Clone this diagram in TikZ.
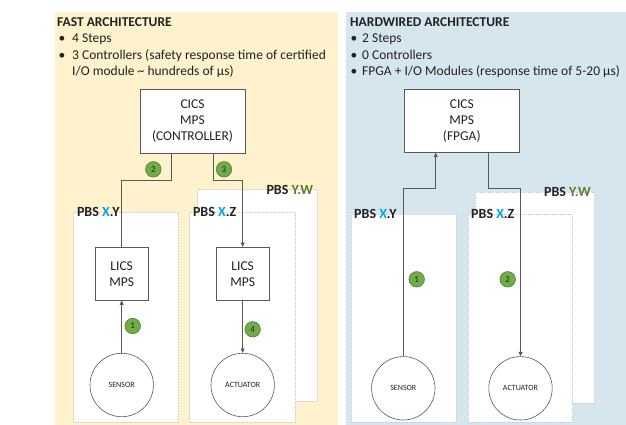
\documentclass[tikz,border=0pt]{standalone}
\usepackage{fontspec}
\setmainfont{Carlito}
\usetikzlibrary{arrows.meta,calc}

\definecolor{fastbg}{HTML}{FFF2CC}
\definecolor{hardbg}{HTML}{D6E6EF}
\definecolor{edge}{HTML}{595959}
\definecolor{pbsedge}{HTML}{CFCFCF}
\definecolor{badgefill}{HTML}{70AD47}
\definecolor{badgeedge}{HTML}{507E32}
\definecolor{xblue}{HTML}{00A6E6}
\definecolor{ygreen}{HTML}{5A7F2A}
\definecolor{ink}{HTML}{222222}

\tikzset{
  hdr/.style={anchor=base west, inner sep=0pt, font=\fontsize{13.5}{16}\selectfont, text=ink},
  blt/.style={anchor=base west, inner sep=0pt, font=\fontsize{13.5}{16}\selectfont, text=ink},
  pbsbox/.style={draw=pbsedge, densely dotted, line width=0.6pt, fill=white, anchor=north west, inner sep=0pt},
  pbslabel/.style={inner sep=0pt, font=\bfseries\fontsize{14}{16}\selectfont, text=ink},
  ctrl/.style={draw=edge, line width=0.7pt, fill=white, align=center, inner sep=0pt,
    font=\fontsize{13.5}{16}\selectfont, text=ink},
  dev/.style={circle, draw=edge, line width=0.6pt, fill=white, inner sep=0pt,
    minimum size=63.4pt, font=\fontsize{8}{9}\selectfont, text=ink},
  badge/.style={circle, draw=badgeedge, line width=0.6pt, fill=badgefill, inner sep=0pt,
    minimum size=15.5pt, font=\fontsize{9}{10}\selectfont, text=ink},
  wire/.style={draw=edge, line width=0.7pt},
  flow/.style={wire, -{Triangle[width=4pt,length=4.5pt]}},
}

\begin{document}
\begin{tikzpicture}[x=1pt, y=-1pt]
\useasboundingbox (0,0) rectangle (626,425);

% background panels
\fill[fastbg] (55,12) rectangle (338,425);
\fill[hardbg] (346,12) rectangle (626,425);

% ---------------- fast architecture ----------------
\node[hdr] (fh) at (57,26.5) {\textbf{FAST ARCHITECTURE}};
\node[blt] (fb1) at (58.5,43) {\textbullet};
\node[blt] (ft1) at (72,43) {4 Steps};
\node[blt] (fb2) at (58.5,59.5) {\textbullet};
\node[blt] (ft2) at (72,59.5) {3 Controllers (safety response time of certified};
\node[blt] (ft3) at (72,76) {I/O module \textasciitilde{} hundreds of μs)};

% PBS containers
\node[pbsbox, minimum width=119.4pt, minimum height=211.4pt] (fyw) at (197.3,189.3) {};
\node[pbslabel, anchor=north east] (fywl) at ($(fyw.north east)+(-4,-4.5)$) {PBS \textcolor{ygreen}{Y.W}};
\node[pbsbox, minimum width=105pt, minimum height=210pt] (fxy) at (73.3,211.7) {};
\node[pbslabel, anchor=north west] (fxyl) at ($(fxy.north west)+(3.5,-4.5)$) {PBS \textcolor{xblue}{X}.Y};
\node[pbsbox, minimum width=105.7pt, minimum height=210pt] (fxz) at (189.3,211.7) {};
\node[pbslabel, anchor=north west] (fxzl) at ($(fxz.north west)+(3.5,-4.5)$) {PBS \textcolor{xblue}{X}.Z};

% controllers
\node[ctrl, minimum width=105pt, minimum height=64pt] (fcics) at (192.5,121) {CICS\\MPS\\(CONTROLLER)};
\node[ctrl, minimum width=53.3pt, minimum height=52.7pt] (flicsa) at (121.7,273.7) {LICS\\MPS};
\node[ctrl, minimum width=53.3pt, minimum height=52.7pt] (flicsb) at (242.7,273.7) {LICS\\MPS};

% field devices
\node[dev] (fsens) at (121.7,385) {SENSOR};
\node[dev] (fact) at (242.7,385) {ACTUATOR};

% signal paths
\coordinate (fk2) at (171.7,180.7);
\coordinate (fk3) at (213.3,180.7);
\draw[flow] (fsens.north) -- (flicsa.south);
\draw[wire] (flicsa.north) |- (fk2) -- (fk2 |- fcics.south);
\draw[flow] (fk3 |- fcics.south) -- (fk3) -| (flicsb.north);
\draw[flow] (flicsb.south) -- (fact.north);

% step numbers
\node[badge] (fs1) at (132.7,326) {1};
\node[badge] (fs2) at (153.3,169.3) {2};
\node[badge] (fs3) at (224,169.3) {3};
\node[badge] (fs4) at (252.7,329.3) {4};

% ---------------- hardwired architecture ----------------
\node[hdr] (hh) at (350,26.5) {\textbf{HARDWIRED ARCHITECTURE}};
\node[blt] (hb1) at (350.5,43) {\textbullet};
\node[blt] (ht1) at (362,43) {2 Steps};
\node[blt] (hb2) at (350.5,59.5) {\textbullet};
\node[blt] (ht2) at (362,59.5) {0 Controllers};
\node[blt] (hb3) at (350.5,76) {\textbullet};
\node[blt] (ht3) at (362,76) {FPGA + I/O Modules (response time of 5-20 μs)};

% PBS containers
\node[pbsbox, minimum width=119.3pt, minimum height=211pt] (hyw) at (475,191.7) {};
\node[pbslabel, anchor=north east] (hywl) at ($(hyw.north east)+(-4,-4.5)$) {PBS \textcolor{ygreen}{Y.W}};
\node[pbsbox, minimum width=104.7pt, minimum height=208pt] (hxy) at (351,214) {};
\node[pbslabel, anchor=north west] (hxyl) at ($(hxy.north west)+(3,-4.5)$) {PBS \textcolor{xblue}{X}.Y};
\node[pbsbox, minimum width=104.3pt, minimum height=208pt] (hxz) at (468,214) {};
\node[pbslabel, anchor=north west] (hxzl) at ($(hxz.north west)+(3,-4.5)$) {PBS \textcolor{xblue}{X}.Z};

% FPGA controller
\node[ctrl, minimum width=115pt, minimum height=63pt] (hcics) at (461.8,120.8) {CICS\\MPS\\(FPGA)};

% field devices
\node[dev] (hsens) at (403.3,388.3) {SENSOR};
\node[dev] (hact) at (520.5,388.3) {ACTUATOR};

% signal paths
\coordinate (hk1) at (435.7,188.3);
\coordinate (hk2) at (488.3,188.3);
\draw[flow] (hsens.north) |- (hk1) -- (hk1 |- hcics.south);
\draw[flow] (hk2 |- hcics.south) -- (hk2) -| (hact.north);

% step numbers
\node[badge] (hs1) at (416.7,279.3) {1};
\node[badge] (hs2) at (507.7,279.3) {2};
\end{tikzpicture}
\end{document}
